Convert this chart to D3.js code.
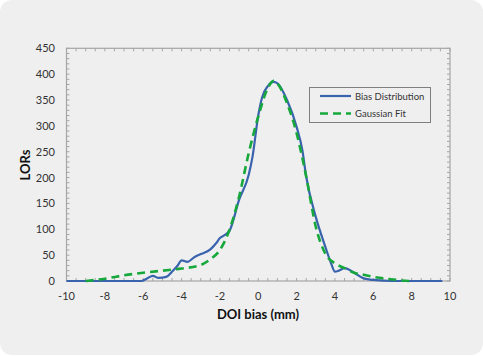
<!DOCTYPE html>
<html><head><meta charset="utf-8">
<script src="https://cdn.jsdelivr.net/npm/d3@7"></script>
<style>html,body{margin:0;padding:0;background:#fff;}svg{display:block;}</style>
</head><body>
<script>
const biasX = [-10,-8,-6.1,-5.8,-5.5,-5.2,-4.8,-4.5,-4.2,-4,-3.7,-3.3,-3,-2.5,-2.2,-2,-1.7,-1.5,-1,-0.5,-0.3,0,0.2,0.5,0.8,1,1.5,2,2.3,2.5,3,3.5,3.8,4,4.2,4.5,5,5.5,6,7,8,9.6];
const biasY = [0,0,0,5,10,6,8,18,30,40,37,47,52,61,73,83,90,97,157,205,240,320,355,377,385,382,350,298,253,202,124,66,34,18,20,25,16,5,2,0,0,0];
const fitX = [-9,-8,-7,-6,-5,-4,-3,-2.5,-2,-1.5,-1,-0.5,0,0.5,0.8,1,1.5,2,2.5,3,3.5,4,4.5,5,5.5,6,7,7.5,7.9];
const fitY = [0,4.5,11,16,20,24,31,42,60,99,163,247,318,373,387,382,344,286,202,105,53,34,25,16,12,8,3,1,0];
const xTicks = [-10,-8,-6,-4,-2,0,2,4,6,8,10];
const yTicks = [0,50,100,150,200,250,300,350,400,450];
const seriesNames = ["Bias Distribution","Gaussian Fit"];

const W=483,H=356;
const svg=d3.select("body").append("svg").attr("width",W).attr("height",H);
svg.append("rect").attr("x",0).attr("y",0).attr("width",W).attr("height",H-1).attr("rx",12).attr("fill","#efefef");

const L=66.5,R=450,T=48.3,B=281;
const x=d3.scaleLinear().domain([-10,10]).range([L,R]);
const y=d3.scaleLinear().domain([0,450]).range([B,T]);
const font="Lato, 'Open Sans', sans-serif";
const tickCol="#a6a6a6";

const g=svg.append("g");
const xm=d3.range(-10,10.001,0.5), ym=d3.range(0,450.001,10);
g.selectAll(".xb").data(xm).join("line").attr("x1",d=>x(d)).attr("x2",d=>x(d)).attr("y1",B).attr("y2",B-3).attr("stroke",tickCol);
g.selectAll(".xt").data(xm).join("line").attr("x1",d=>x(d)).attr("x2",d=>x(d)).attr("y1",T).attr("y2",T+3).attr("stroke",tickCol);
g.selectAll(".yl").data(ym).join("line").attr("x1",L).attr("x2",L+3).attr("y1",d=>y(d)).attr("y2",d=>y(d)).attr("stroke",tickCol);
g.selectAll(".yr").data(ym).join("line").attr("x1",R).attr("x2",R-3).attr("y1",d=>y(d)).attr("y2",d=>y(d)).attr("stroke",tickCol);
g.append("rect").attr("x",L).attr("y",T).attr("width",R-L).attr("height",B-T).attr("fill","none").attr("stroke",tickCol).attr("stroke-width",1.2);

g.selectAll(".xl").data(xTicks).join("text").attr("x",d=>x(d)).attr("y",300).attr("text-anchor","middle")
 .attr("font-family",font).attr("font-size",11).attr("fill","#333").text(d=>d);
g.selectAll(".yl2").data(yTicks).join("text").attr("x",55).attr("y",d=>y(d)+4).attr("text-anchor","end")
 .attr("font-family",font).attr("font-size",11).attr("fill","#333").text(d=>d);

svg.append("text").attr("x",258).attr("y",319).attr("text-anchor","middle").attr("font-family",font)
 .attr("font-weight","bold").attr("font-size",13).attr("fill","#111").text("DOI bias (mm)");
svg.append("text").attr("transform","translate(30,165) rotate(-90)").attr("text-anchor","middle").attr("font-family",font)
 .attr("font-weight","bold").attr("font-size",13).attr("fill","#111").text("LORs");

const line=d3.line().x(d=>x(d[0])).y(d=>y(d[1])).curve(d3.curveMonotoneX);
svg.append("path").attr("d",line(biasX.map((v,i)=>[v,biasY[i]]))).attr("fill","none").attr("stroke","#3a63ad").attr("stroke-width",2.2);
svg.append("path").attr("d",line(fitX.map((v,i)=>[v,fitY[i]]))).attr("fill","none").attr("stroke","#17a83c").attr("stroke-width",2.6).attr("stroke-dasharray","8,5");

const lg=svg.append("g");
lg.append("rect").attr("x",309.5).attr("y",87.5).attr("width",121).attr("height",35).attr("fill","#efefef").attr("stroke","#7f7f7f").attr("stroke-width",1);
lg.append("line").attr("x1",320).attr("x2",351).attr("y1",96).attr("y2",96).attr("stroke","#3a63ad").attr("stroke-width",2.2);
lg.append("line").attr("x1",320).attr("x2",351).attr("y1",113.5).attr("y2",113.5).attr("stroke","#17a83c").attr("stroke-width",2.6).attr("stroke-dasharray","8,5");
lg.selectAll(".lt").data(seriesNames).join("text").attr("x",355).attr("y",(d,i)=>99.5+i*17.5)
 .attr("font-family",font).attr("font-size",9.5).attr("fill","#333").text(d=>d);
</script>
</body></html>
